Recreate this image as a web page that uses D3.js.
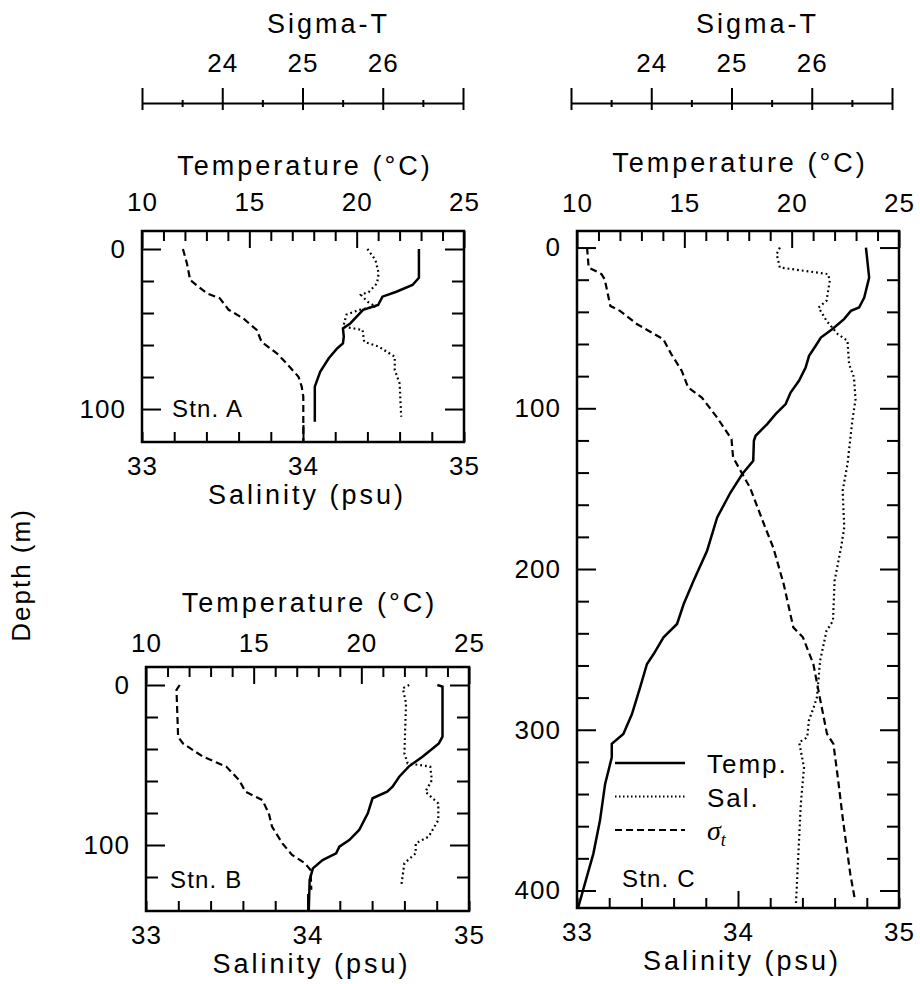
<!DOCTYPE html>
<html>
<head>
<meta charset="utf-8">
<script src="https://cdn.jsdelivr.net/npm/d3@7"></script>
<style>
body { margin: 0; background: #fff; }
svg text { font-family: "Liberation Sans", Arial, sans-serif; fill: #000; }
.tick text { font-size: 26px; letter-spacing: 1px; }
.title { font-size: 27px; letter-spacing: 3px; }
.label { font-size: 26px; letter-spacing: 2px; }
.stn { font-size: 24px; letter-spacing: 1.2px; }
.tick line { stroke: #000; stroke-width: 2; }
</style>
</head>
<body>
<svg id="chart" width="920" height="984"></svg>
<script>
// ---- data: [depth (m), value] ----
const tempA = [[0,22.9],[18,22.9],[22.5,22.6],[26.7,21.85],[29.8,21.2],[35,21.0],[38,20.3],[42.3,20.0],[46.5,19.7],[49.6,19.36],[54.8,19.4],[59,19.36],[62,19.1],[68.3,18.7],[76.7,18.3],[86,18.05],[108,18.05]];
const salA = [[0,34.40],[6.9,34.45],[15.2,34.47],[21.5,34.46],[26.7,34.41],[28.7,34.36],[32.9,34.40],[36,34.45],[38,34.35],[41,34.27],[48.5,34.25],[50.6,34.37],[58,34.38],[61,34.47],[67.3,34.57],[75.6,34.57],[84,34.60],[104.8,34.61]];
const sigA = [[0,23.51],[9,23.56],[19.4,23.60],[27.7,23.81],[30.8,23.97],[38,24.08],[43.3,24.26],[50.6,24.43],[58,24.49],[65.2,24.68],[71.4,24.80],[79.8,24.95],[86,24.99],[92.3,25.01],[120,25.01]];

const tempB = [[0,23.53],[1,23.77],[32.3,23.77],[36.5,23.6],[44.8,22.84],[51,22.2],[57.3,21.76],[63.5,21.45],[66.7,21.2],[70.8,20.52],[80.2,20.3],[90.6,19.9],[96.9,19.44],[101,18.98],[105.2,18.83],[109.4,18.2],[114.6,17.75],[121.9,17.6],[140.6,17.56]];
const salB = [[0,34.63],[2,34.59],[11.4,34.61],[42.7,34.60],[49,34.62],[50,34.69],[51,34.76],[59.4,34.77],[66.7,34.73],[74,34.81],[84.4,34.81],[94.8,34.75],[99,34.67],[105.2,34.67],[111.4,34.60],[126,34.58]];
const sigB = [[0,23.42],[3,23.38],[32.3,23.40],[36.5,23.46],[44.8,23.71],[51,24.0],[59.4,24.16],[66.7,24.24],[71.9,24.45],[80.2,24.53],[88.5,24.57],[99,24.70],[106.2,24.82],[111.4,24.98],[115.6,25.05],[128,25.06]];

const tempC = [[0,23.46],[18.7,23.61],[31.1,23.38],[37.3,23.14],[39.4,22.76],[44.5,22.44],[50.7,21.9],[56,21.36],[61.1,21.12],[67.4,20.81],[74.6,20.65],[82.9,20.34],[90.2,19.95],[97.4,19.72],[103.6,19.25],[109.8,18.86],[117.1,18.32],[120.2,18.24],[132.6,18.21],[140.9,17.7],[152.4,17.15],[167.9,16.53],[188.6,16.06],[207.3,15.43],[221.8,14.97],[234.2,14.66],[242.5,14.03],[252.9,13.57],[259.1,13.26],[273.6,12.94],[290.2,12.56],[302.6,12.16],[308.8,11.62],[317.2,11.62],[333.7,11.31],[356.5,11.07],[377.2,10.76],[391.8,10.45],[410.4,10.06]];
const salC = [[0,34.26],[4.1,34.24],[12.4,34.26],[16.5,34.56],[20.7,34.57],[33.1,34.55],[37.3,34.50],[45.6,34.55],[53.9,34.62],[58,34.68],[72.5,34.69],[80.8,34.72],[94.3,34.73],[107.8,34.71],[134.7,34.68],[151.3,34.65],[174.1,34.66],[186.6,34.64],[207.3,34.60],[232.2,34.59],[238.4,34.55],[257,34.51],[279.9,34.49],[286.1,34.47],[294.3,34.44],[304.7,34.43],[307.8,34.38],[323.4,34.41],[346.2,34.39],[366.9,34.38],[408.3,34.36]];
const sigC = [[0,23.20],[12.4,23.22],[16.5,23.38],[19.7,23.42],[36.3,23.49],[39.4,23.61],[47.6,23.82],[57,24.15],[66.3,24.25],[76.7,24.38],[87.1,24.46],[93.3,24.63],[105.7,24.82],[119.2,25.0],[130.6,25.02],[149.3,25.23],[174.1,25.42],[186.6,25.52],[209.3,25.65],[236.3,25.77],[242.5,25.89],[259.1,26.02],[279.9,26.10],[302.6,26.19],[308.8,26.27],[331.7,26.33],[356.5,26.39],[389.7,26.48],[406.3,26.54]];

// ticks
const tempTicks = d3.range(10, 26, 1);
const salTicks = d3.range(0, 11).map(i => +(33 + i * 0.2).toFixed(1));
const sigmaTicks = d3.range(0, 9).map(i => 23 + i * 0.5);
const sigmaLabels = [24, 25, 26];
const depthTicksA = d3.range(0, 101, 20);
const depthTicksB = d3.range(0, 121, 20);
const depthTicksC = d3.range(0, 401, 20);

const legendItems = ["Temp.", "Sal.", "sigma"];

const svg = d3.select("#chart");

const styles = {
  temp: { width: 2.5, dash: null },
  sal: { width: 2.2, dash: "1.8,3" },
  sig: { width: 2.2, dash: "7,4" }
};

// top Sigma-T axes (one per column)
function sigmaAxis(r) {
  const s = d3.scaleLinear().domain([23, 27]).range(r);
  const g = svg.append("g").attr("transform", "translate(0,103)")
    .call(d3.axisTop(s).tickValues(sigmaTicks).tickSize(15).tickSizeOuter(0).tickPadding(16)
      .tickFormat(d => sigmaLabels.includes(d) ? d : ""));
  g.select(".domain").attr("stroke", "#000").attr("stroke-width", 2);
  g.selectAll(".tick line")
    .attr("y1", d => Number.isInteger(d) ? 7 : 4)
    .attr("y2", d => Number.isInteger(d) ? -15 : -3);
  svg.append("text").attr("class", "title")
    .attr("x", (r[0] + r[1]) / 2 + 26).attr("y", 33)
    .attr("text-anchor", "middle").text("Sigma-T");
}
sigmaAxis([142, 463]);
sigmaAxis([571, 892]);

const panels = [
  { stn: "Stn. A", left: 142, right: 464, top: 231, bottom: 442, d0: -11.25, d1: 120.6,
    temp: tempA, sal: salA, sig: sigA, sigRange: [142, 463], depthTicks: depthTicksA,
    tPad: 20, tTitle: 56, stnX: 30, stnY: 25 },
  { stn: "Stn. B", left: 146, right: 469, top: 667, bottom: 911, d0: -11.25, d1: 141.25,
    temp: tempB, sal: salB, sig: sigB, sigRange: [146, 467], depthTicks: depthTicksB,
    tPad: 15, tTitle: 55, stnX: 24, stnY: 23 },
  { stn: "Stn. C", left: 577, right: 899, top: 231, bottom: 908, d0: -10.3, d1: 410.9,
    temp: tempC, sal: salC, sig: sigC, sigRange: [571, 892], depthTicks: depthTicksC,
    tPad: 19, tTitle: 59, stnX: 45, stnY: 21 }
];

panels.forEach(p => {
  const xT = d3.scaleLinear().domain([10, 25]).range([p.left, p.right]);
  const xS = d3.scaleLinear().domain([33, 35]).range([p.left, p.right]);
  const xG = d3.scaleLinear().domain([23, 27]).range(p.sigRange);
  const y = d3.scaleLinear().domain([p.d0, p.d1]).range([p.top, p.bottom]);
  const midX = (p.left + p.right) / 2;

  // temperature (top)
  const gT = svg.append("g").attr("transform", `translate(0,${p.top})`)
    .call(d3.axisTop(xT).tickValues(tempTicks).tickSize(-10).tickPadding(p.tPad)
      .tickFormat(d => d % 5 === 0 ? d : ""));
  gT.selectAll(".tick line").attr("y2", d => d % 5 === 0 ? 17 : 10);
  gT.select(".domain").remove();
  svg.append("text").attr("class", "title").attr("x", midX + 2).attr("y", p.top - p.tTitle)
    .attr("text-anchor", "middle").text("Temperature (\u00B0C)");

  // salinity (bottom)
  const gS = svg.append("g").attr("transform", `translate(0,${p.bottom})`)
    .call(d3.axisBottom(xS).tickValues(salTicks).tickSize(-10).tickPadding(15)
      .tickFormat(d => Number.isInteger(d) ? d : ""));
  gS.selectAll(".tick line").attr("y2", d => d === 34 ? -17 : -10);
  gS.select(".domain").remove();
  svg.append("text").attr("class", "title").attr("x", midX + 4).attr("y", p.bottom + 62)
    .attr("text-anchor", "middle").text("Salinity (psu)");

  // depth (left / right)
  const gL = svg.append("g").attr("transform", `translate(${p.left},0)`)
    .call(d3.axisLeft(y).tickValues(p.depthTicks).tickSize(-12).tickPadding(16)
      .tickFormat(d => d % 100 === 0 ? d : ""));
  gL.selectAll(".tick line").attr("x2", d => d % 100 === 0 ? 19 : 12);
  gL.select(".domain").remove();
  const gR = svg.append("g").attr("transform", `translate(${p.right},0)`)
    .call(d3.axisRight(y).tickValues(p.depthTicks).tickSize(-12).tickFormat(""));
  gR.selectAll(".tick line").attr("x2", d => d % 100 === 0 ? -19 : -12);
  gR.select(".domain").remove();

  svg.append("rect").attr("x", p.left).attr("y", p.top)
    .attr("width", p.right - p.left).attr("height", p.bottom - p.top)
    .attr("fill", "none").attr("stroke", "#000").attr("stroke-width", 2.5);

  // profiles
  const series = [
    { data: p.temp, x: xT, st: styles.temp },
    { data: p.sal, x: xS, st: styles.sal },
    { data: p.sig, x: xG, st: styles.sig }
  ];
  series.forEach(s => {
    svg.append("path").datum(s.data)
      .attr("fill", "none").attr("stroke", "#000")
      .attr("stroke-width", s.st.width)
      .attr("stroke-dasharray", s.st.dash)
      .attr("d", d3.line().x(d => s.x(d[1])).y(d => y(d[0])));
  });

  svg.append("text").attr("class", "stn")
    .attr("x", p.left + p.stnX).attr("y", p.bottom - p.stnY).text(p.stn);
});

// y title
svg.append("text").attr("class", "label")
  .attr("transform", "translate(30,575) rotate(-90)")
  .attr("text-anchor", "middle").text("Depth (m)");

// legend (Stn. C)
const leg = svg.append("g").attr("transform", "translate(615,763)");
const legStyles = [styles.temp, { width: 2, dash: "1.5,2.5" }, styles.sig];
legendItems.forEach((name, i) => {
  const row = leg.append("g").attr("transform", `translate(0,${i * 33.5})`);
  row.append("line").attr("x1", 0).attr("x2", 70)
    .attr("stroke", "#000").attr("stroke-width", legStyles[i].width)
    .attr("stroke-dasharray", legStyles[i].dash);
  if (name === "sigma") {
    const t = row.append("text").attr("x", 92).attr("y", 10)
      .style("font-family", '"Liberation Serif", serif').style("font-style", "italic").style("font-size", "28px");
    t.append("tspan").text("\u03C3");
    t.append("tspan").attr("dy", 6).style("font-size", "18px").text("t");
  } else {
    row.append("text").attr("class", "label").attr("x", 92).attr("y", 10).text(name);
  }
});
</script>
</body>
</html>
